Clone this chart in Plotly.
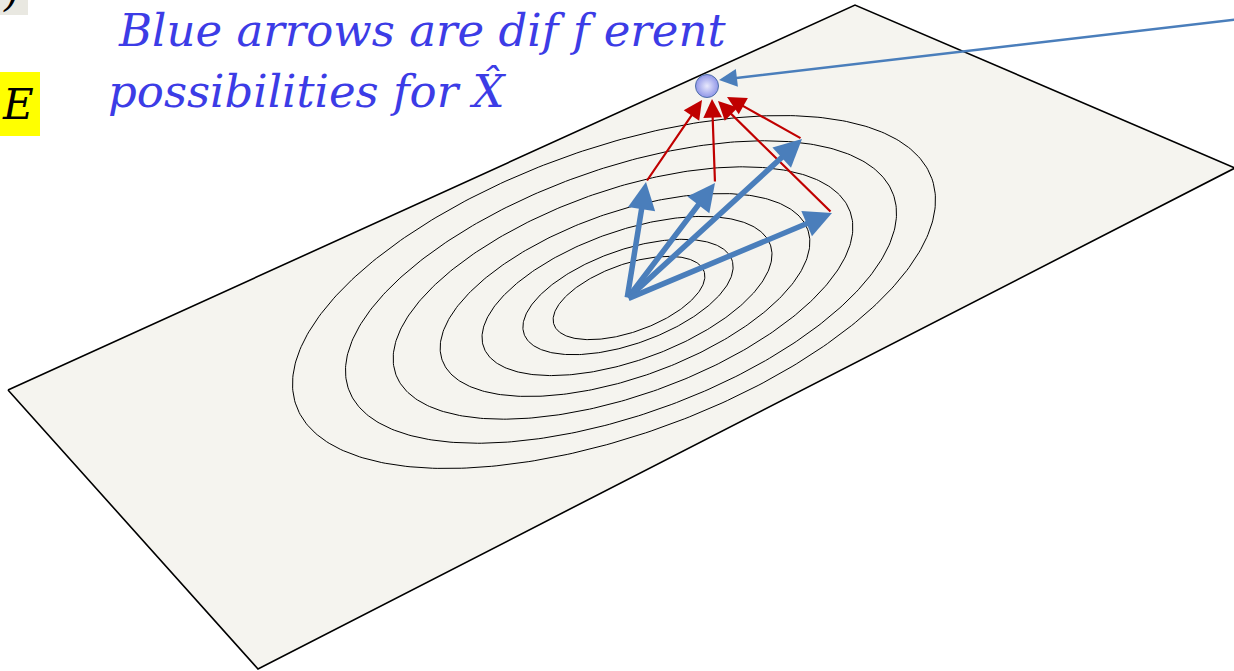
#sketch of the plane with the error ellipses and the candidate arrows
import numpy as np
import plotly.graph_objects as go

W, H = 1234, 671

# plane corners (left, top, right, bottom), pixel units
plane_x = [8, 855, 1235, 258]
plane_y = [390, 5, 168, 669]

# contour ellipses, outer -> inner
ell_scale = [1.0, 0.857, 0.715, 0.575, 0.451, 0.327, 0.236]
ell_cx = [614, 621, 623, 625, 627, 628, 629]
ell_cy = [292, 292, 293, 295, 296, 297, 298]
ell_a, ell_b, ell_tilt = 337.5, 143.5, 19.65

# blue arrows: common tail and the four tips
tail_x, tail_y = 627, 299
blue_tip_x = [646, 715, 802, 832]
blue_tip_y = [182, 183, 139, 213]

# red arrows: from the blue tips up to the point
red_end_x = [702, 712, 727, 718]
red_end_y = [100, 99, 97, 101]

# the point X hat and the pointer line into it
pt_x, pt_y = 707, 86
ptr_start = (1240, 19)
ptr_end = (719, 80)

line1 = "Blue arrows are dif f erent"
line2 = "possibilities for X\u0302"

fig = go.Figure()

# plane
fig.add_trace(go.Scatter(
    x=plane_x + [plane_x[0]], y=plane_y + [plane_y[0]],
    mode="lines", fill="toself", fillcolor="#F5F4EF",
    line=dict(color="black", width=1.6), hoverinfo="skip"))

# ellipses
t = np.linspace(0, 2 * np.pi, 361)
th = np.radians(ell_tilt)
for s, cx, cy in zip(ell_scale, ell_cx, ell_cy):
    a, b = ell_a * s, ell_b * s
    ex = cx + a * np.cos(t) * np.cos(th) - b * np.sin(t) * np.sin(th)
    ey = cy - (a * np.cos(t) * np.sin(th) + b * np.sin(t) * np.cos(th))
    fig.add_trace(go.Scatter(x=ex, y=ey, mode="lines",
                             line=dict(color="black", width=1), hoverinfo="skip"))

# the point (gradient color is the centre for radial)
fig.add_trace(go.Scatter(
    x=[pt_x], y=[pt_y], mode="markers",
    marker=dict(size=23, color="#9096E8",
                gradient=dict(type="radial", color="#E8E9FC"),
                line=dict(color="#4F6FA8", width=1)),
    hoverinfo="skip"))

# red arrows
for x0, y0, x1, y1 in zip(blue_tip_x, blue_tip_y, red_end_x, red_end_y):
    fig.add_annotation(x=x1, y=y1, ax=x0, ay=y0, xref="x", yref="y",
                       axref="x", ayref="y", text="", showarrow=True,
                       arrowhead=2, arrowsize=1.7, arrowwidth=2.2,
                       arrowcolor="#C00000")

# blue arrows
for x1, y1 in zip(blue_tip_x, blue_tip_y):
    fig.add_annotation(x=x1, y=y1, ax=tail_x, ay=tail_y, xref="x", yref="y",
                       axref="x", ayref="y", text="", showarrow=True,
                       arrowhead=2, arrowsize=1.0, arrowwidth=5.5,
                       arrowcolor="#4A7EBB")

# pointer line
fig.add_annotation(x=ptr_end[0], y=ptr_end[1], ax=ptr_start[0], ay=ptr_start[1],
                   xref="x", yref="y", axref="x", ayref="y", text="",
                   showarrow=True, arrowhead=2, arrowsize=1.5, arrowwidth=2.4,
                   arrowcolor="#4A7EBB")

# text
blue_font = dict(family="DejaVu Serif", size=45, color="#3C3CE6", style="italic")
fig.add_annotation(x=116, y=30, xref="x", yref="y", text=line1, showarrow=False,
                   xanchor="left", yanchor="middle", font=blue_font)
fig.add_annotation(x=106, y=91, xref="x", yref="y", text=line2, showarrow=False,
                   xanchor="left", yanchor="middle", font=blue_font)

# bits of the slide on the left
fig.add_shape(type="rect", x0=0, y0=0, x1=28, y1=15, xref="x", yref="y",
              fillcolor="#E9E8E1", line=dict(width=0), layer="below")
fig.add_annotation(x=1, y=2, xref="x", yref="y", text=")", showarrow=False,
                   xanchor="left", yanchor="middle", yshift=10,
                   font=dict(family="DejaVu Serif", size=40, color="black", style="italic"))
fig.add_shape(type="rect", x0=0, y0=72, x1=40, y1=136, xref="x", yref="y",
              fillcolor="#FFFF00", line=dict(width=0), layer="below")
fig.add_annotation(x=0, y=104, xref="x", yref="y", text="E", showarrow=False,
                   xanchor="left", yanchor="middle",
                   font=dict(family="DejaVu Serif", size=42, color="black", style="italic"))

fig.update_xaxes(range=[0, W], visible=False, fixedrange=True)
fig.update_yaxes(range=[H, 0], visible=False, fixedrange=True)
fig.update_layout(
    width=W, height=H,
    margin=dict(l=0, r=0, t=0, b=0),
    showlegend=False,
    paper_bgcolor="white",
    plot_bgcolor="white",
)

# page body has a default 8px margin, drop it so the figure sits at 0,0
fig.write_html("out.html", config={"displayModeBar": False},
               post_script="document.body.style.margin='0px';")
